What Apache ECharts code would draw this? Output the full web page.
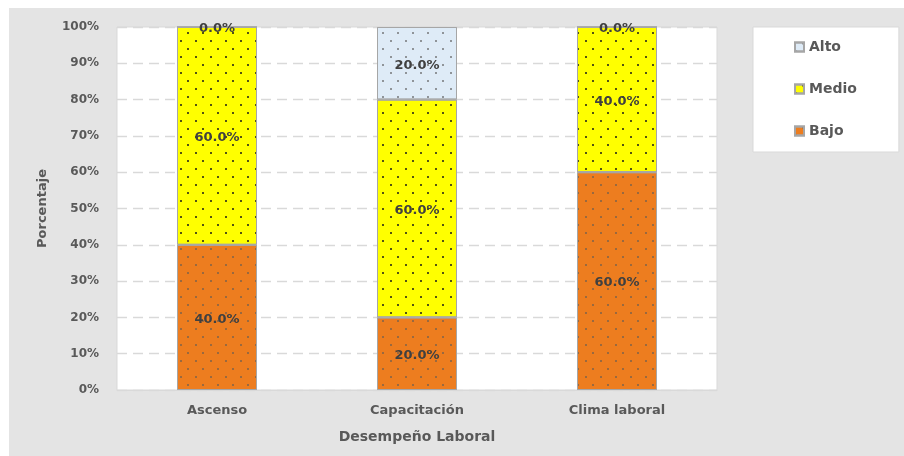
<!DOCTYPE html>
<html>
<head>
<meta charset="utf-8">
<script src="https://cdn.jsdelivr.net/npm/echarts@6/dist/echarts.min.js"></script>
<style>
  html, body { margin: 0; padding: 0; background: #ffffff; }
  #chart { width: 904px; height: 456px; }
</style>
</head>
<body>
<div id="chart"></div>
<script>
// Desempeño laboral: distribución porcentual por dimensión
const categories = ['Ascenso', 'Capacitación', 'Clima laboral'];
const bajo  = [40, 20, 60];
const medio = [60, 60, 40];
const alto  = [0, 20, 0];
const yTicks = [0, 10, 20, 30, 40, 50, 60, 70, 80, 90, 100];

const FONT = 'DejaVu Sans';
const TEXT = '#595959';

// staggered dot texture laid over every bar
function dots(color) {
  return {
    symbol: 'circle',
    symbolSize: 1,
    color: color,
    dashArrayX: [[1.8, 12.2], [0, 7, 1.8, 5.2]],
    dashArrayY: [1.8, 5.2],
    rotation: 0
  };
}

function barSeries(name, data, fill, dotColor) {
  return {
    name: name,
    type: 'bar',
    stack: 'total',
    barWidth: '40%',
    data: data,
    itemStyle: {
      color: fill,
      borderColor: '#a6a6a6',
      borderWidth: 1,
      decal: dots(dotColor)
    },
    label: {
      show: true,
      position: 'inside',
      offset: [0, 2],
      formatter: p => p.value.toFixed(1) + '%',
      fontFamily: FONT,
      fontWeight: 'bold',
      fontSize: 13,
      color: '#404040'
    },
    emphasis: { disabled: true }
  };
}

const chart = echarts.init(document.getElementById('chart'), null, { renderer: 'canvas' });
chart.setOption({
  animation: false,
  backgroundColor: '#ffffff',
  graphic: [{
    type: 'rect',
    z: -10,
    shape: { x: 9, y: 8, width: 895, height: 448 },
    style: { fill: '#e4e4e4' }
  }],
  grid: {
    left: 117, top: 27, right: 187, bottom: 66,
    show: true,
    backgroundColor: '#ffffff',
    borderColor: '#d9d9d9',
    borderWidth: 1
  },
  legend: {
    orient: 'vertical',
    left: 753, top: 27,
    data: ['Alto', 'Medio', 'Bajo'],
    backgroundColor: '#ffffff',
    borderColor: '#d9d9d9',
    borderWidth: 1,
    padding: [13, 42, 14, 41],
    itemWidth: 9, itemHeight: 9,
    itemGap: 28,
    icon: 'rect',
    textStyle: { fontFamily: FONT, fontWeight: 'bold', fontSize: 14, color: TEXT }
  },
  xAxis: {
    type: 'category',
    data: categories,
    name: 'Desempeño Laboral',
    nameLocation: 'middle',
    nameGap: 40,
    nameTextStyle: { fontFamily: FONT, fontWeight: 'bold', fontSize: 14, color: TEXT },
    axisLine: { show: true, lineStyle: { color: '#d9d9d9' } },
    axisTick: { show: false },
    axisLabel: { margin: 14, fontFamily: FONT, fontWeight: 'bold', fontSize: 13, color: TEXT }
  },
  yAxis: {
    type: 'value',
    min: yTicks[0], max: yTicks[yTicks.length - 1], interval: 10,
    name: 'Porcentaje',
    nameLocation: 'middle',
    nameGap: 68,
    nameTextStyle: { fontFamily: FONT, fontWeight: 'bold', fontSize: 13, color: TEXT },
    axisLine: { show: false },
    axisTick: { show: false },
    axisLabel: { margin: 18, formatter: '{value}%', fontFamily: FONT, fontWeight: 'bold', fontSize: 12, color: TEXT },
    splitLine: { show: true, lineStyle: { color: '#d9d9d9', type: [10, 6], width: 1.3 } }
  },
  series: [
    barSeries('Bajo', bajo, '#ed7d1f', 'rgba(90,90,90,0.75)'),
    barSeries('Medio', medio, '#ffff00', '#1a1a1a'),
    barSeries('Alto', alto, '#deebf7', 'rgba(90,90,90,0.8)')
  ]
});
</script>
</body>
</html>
